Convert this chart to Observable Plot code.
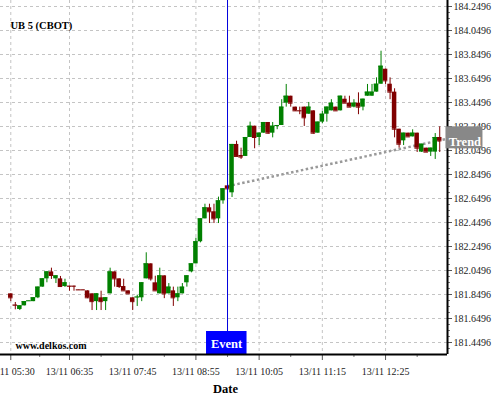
<!DOCTYPE html>
<html><head><meta charset="utf-8">
<script src="https://cdn.jsdelivr.net/npm/d3@7"></script>
<script src="https://cdn.jsdelivr.net/npm/@observablehq/plot@0.6"></script>
<style>html,body{margin:0;padding:0;background:#fff;} #chart svg{display:block;}</style>
</head><body><div id="chart"></div>
<script>
const title = "UB 5 (CBOT)";
const source = "www.delkos.com";
const xLabel = "Date";
const eventLabel = "Event";
const trendLabel = "Trend";

const times = [
"05:30","05:35","05:40","05:45","05:50","05:55",
"06:00","06:05","06:10","06:15","06:20","06:25","06:30","06:35","06:40","06:45","06:50","06:55",
"07:00","07:05","07:10","07:15","07:20","07:25","07:30","07:35","07:40","07:45","07:50","07:55",
"08:00","08:05","08:10","08:15","08:20","08:25","08:30","08:35","08:40","08:45","08:50","08:55",
"09:00","09:05","09:10","09:15","09:20","09:25","09:30","09:35","09:40","09:45","09:50","09:55",
"10:00","10:05","10:10","10:15","10:20","10:25","10:30","10:35","10:40","10:45","10:50","10:55",
"11:00","11:05","11:10","11:15","11:20","11:25","11:30","11:35","11:40","11:45","11:50","11:55",
"12:00","12:05","12:10","12:15","12:20","12:25","12:30","12:35","12:40","12:45","12:50","12:55",
"13:00","13:05","13:10","13:15","13:20","13:25"];

const open = [
181.855,181.763,181.725,181.755,181.795,181.790,181.822,181.911,181.980,182.038,
181.980,181.980,181.916,181.920,181.920,181.890,181.890,181.880,181.855,181.790,
181.822,181.790,181.855,182.038,181.980,181.916,181.880,181.822,181.825,181.822,
181.980,182.105,181.947,181.855,182.005,181.855,181.880,181.822,181.855,181.947,
182.038,182.105,182.289,182.480,182.572,182.539,182.480,182.630,182.755,182.697,
183.100,183.008,183.000,183.158,183.252,183.158,183.194,183.283,183.194,183.255,
183.258,183.444,183.502,183.411,183.382,183.411,183.352,183.380,183.194,183.286,
183.352,183.380,183.411,183.380,183.477,183.444,183.411,183.444,183.411,183.502,
183.502,183.536,183.602,183.727,183.602,183.536,183.227,183.130,183.194,183.163,
183.194,183.036,183.069,183.036,183.036,183.158];

const high = [
181.855,181.783,181.755,181.790,181.797,181.822,181.911,181.980,182.038,182.069,
182.005,182.000,181.977,181.920,181.920,181.890,181.890,181.880,181.855,181.855,
181.877,181.822,182.069,182.038,181.980,181.977,181.880,181.822,181.844,181.947,
182.197,182.105,182.002,182.069,182.005,181.941,181.911,181.911,181.941,182.005,
182.105,182.319,182.480,182.602,182.602,182.602,182.661,182.730,182.755,183.100,
183.127,183.069,183.158,183.286,183.252,183.194,183.283,183.283,183.283,183.258,
183.473,183.600,183.502,183.411,183.411,183.411,183.450,183.380,183.286,183.375,
183.411,183.473,183.411,183.502,183.502,183.502,183.473,183.530,183.477,183.600,
183.600,183.655,183.877,183.727,183.655,183.564,183.227,183.194,183.194,183.222,
183.194,183.102,183.069,183.069,183.191,183.247];

const low = [
181.790,181.722,181.716,181.755,181.795,181.790,181.815,181.911,181.947,181.975,
181.941,181.908,181.908,181.877,181.877,181.888,181.888,181.815,181.716,181.716,
181.716,181.716,181.855,181.911,181.900,181.880,181.855,181.716,181.750,181.790,
181.980,181.961,181.880,181.855,181.815,181.855,181.750,181.790,181.855,181.911,
182.030,182.105,182.280,182.480,182.441,182.441,182.441,182.602,182.730,182.658,
183.000,182.975,183.000,183.158,183.064,183.091,183.194,183.186,183.155,183.223,
183.258,183.411,183.411,183.375,183.348,183.250,183.352,183.186,183.194,183.272,
183.286,183.380,183.380,183.380,183.444,183.411,183.405,183.348,183.380,183.502,
183.502,183.536,183.602,183.600,183.473,183.155,183.069,183.091,183.163,183.163,
183.033,183.033,183.036,183.000,182.975,183.033];

const close = [
181.822,181.760,181.755,181.790,181.797,181.822,181.911,181.980,182.038,182.008,
182.005,181.916,181.947,181.918,181.918,181.888,181.888,181.822,181.790,181.855,
181.790,181.822,182.038,181.980,181.916,181.880,181.855,181.790,181.828,181.947,
182.105,181.980,181.880,182.005,181.855,181.911,181.822,181.855,181.911,182.005,
182.105,182.289,182.480,182.572,182.539,182.480,182.630,182.730,182.730,183.100,
183.000,182.995,183.158,183.252,183.158,183.194,183.283,183.194,183.252,183.258,
183.411,183.502,183.444,183.380,183.380,183.322,183.411,183.194,183.286,183.352,
183.411,183.444,183.380,183.502,183.444,183.411,183.444,183.411,183.477,183.536,
183.536,183.602,183.752,183.630,183.536,183.227,183.102,183.194,183.163,183.194,
183.069,183.102,183.036,183.069,183.158,183.130];

const xTickTimes = ["05:30","06:35","07:45","08:55","10:05","11:15","12:25"];
const xTickLabels = ["13/11 05:30","13/11 06:35","13/11 07:45","13/11 08:55","13/11 10:05","13/11 11:15","13/11 12:25"];
const xMinorTimes = ["06:02","07:10","08:20","09:30","10:40","11:50","13:00"];
const yTicks = [181.4496,181.6496,181.8496,182.0496,182.2496,182.4496,182.6496,182.8496,183.0496,183.2496,183.4496,183.6496,183.8496,184.0496,184.2496];

const eventTime = "09:30";
const trendTimes = ["09:30","13:33"];
const trendValues = [182.752, 183.147];

// ---- build ----
const day = (s) => { const [h, m] = s.split(":").map(Number); return new Date(Date.UTC(2023, 10, 13, h, m)); };
const candles = times.map((t, i) => ({t: day(t), o: open[i], h: high[i], l: low[i], c: close[i]}));
const half = 2.5 * 60000;
const up = "#008000", down = "#800000";
const col = d => d.c >= d.o ? up : down;
const xDomain = [new Date(Date.UTC(2023, 10, 13, 5, 18, 36)), new Date(Date.UTC(2023, 10, 13, 13, 33, 36))];
const yDomain = [181.3496, 184.2996];
const xTickDates = xTickTimes.map(day);
const labelMap = new Map(xTickDates.map((d, i) => [+d, xTickLabels[i]]));
const minorY = d3.range(1, 59).map(k => +(yDomain[0] + 0.05 * k).toFixed(4));
const trend = trendTimes.map((t, i) => ({t: day(t), v: trendValues[i]}));
const trendEnd = [trend[trend.length - 1]];
const ev = [day(eventTime)];
const font = "'Liberation Serif', 'Times New Roman', serif";

const chart = Plot.plot({
  width: 500, height: 400,
  marginLeft: 0, marginRight: 53, marginTop: 0, marginBottom: 46,
  style: {fontFamily: font, fontSize: "10px", color: "#222", background: "white", overflow: "visible"},
  x: {type: "utc", domain: xDomain},
  y: {domain: yDomain},
  marks: [
    Plot.gridY(yTicks, {stroke: "#c4c4c4", strokeOpacity: 1, strokeDasharray: "3,3"}),
    Plot.gridX(xTickDates, {stroke: "#c4c4c4", strokeOpacity: 1, strokeDasharray: "3,3"}),
    Plot.link([{t1: trend[0].t, v1: trend[0].v, t2: trend[1].t, v2: trend[1].v}], {x1: "t1", y1: "v1", x2: "t2", y2: "v2", stroke: "#999999", strokeWidth: 2.5, strokeDasharray: "2.5 2.5"}),
    Plot.ruleX(candles, {x: "t", y1: "l", y2: "h", stroke: col, strokeWidth: 1}),
    Plot.rect(candles, {x1: d => new Date(+d.t - half), x2: d => new Date(+d.t + half), y1: "o", y2: "c", fill: col}),
    Plot.ruleY(candles, {y: "c", x1: d => new Date(+d.t - half), x2: d => new Date(+d.t + half), stroke: col, strokeWidth: 1}),
    Plot.ruleX(ev, {x: d => d, stroke: "#0000dd", strokeWidth: 1}),
    Plot.rect(ev, {x1: d => d, x2: d => d, y1: () => yDomain[0], y2: () => yDomain[0], insetLeft: -21, insetRight: -19.5, insetTop: -23, fill: "#0000ff"}),
    Plot.text(ev, {x: d => d, y: () => yDomain[0], text: () => eventLabel, dy: -10.5, dx: -1, fill: "white", fontWeight: "bold", fontSize: 12.5}),
    Plot.text([title], {frameAnchor: "top-left", text: d => d, dx: 10, dy: 21, textAnchor: "start", fontWeight: "bold", fontSize: 10.5, fill: "black"}),
    Plot.text([source], {frameAnchor: "bottom-left", text: d => d, dx: 15, dy: -6, textAnchor: "start", fontWeight: "bold", fontSize: 10, fill: "black"}),
    Plot.text([xLabel], {frameAnchor: "bottom", text: d => d, dx: 1.5, dy: 38, fontWeight: "bold", fontSize: 12.5, fill: "black"}),
    Plot.axisY(minorY, {anchor: "right", tickSize: 2, tickFormat: () => "", label: null, stroke: "#777"}),
    Plot.axisY(yTicks, {anchor: "right", tickSize: 4, tickPadding: 2, tickFormat: d => d.toFixed(4), label: null, stroke: "#555", fill: "#222"}),
    Plot.axisX(xMinorTimes.map(day), {anchor: "bottom", tickSize: 3, tickFormat: () => "", label: null, stroke: "#777"}),
    Plot.axisX(xTickDates, {anchor: "bottom", tickSize: 6, tickPadding: 7, tickFormat: d => labelMap.get(+d), label: null, stroke: "#555", fill: "#222"}),
    Plot.ruleY([yDomain[0]], {stroke: "black", strokeWidth: 2}),
    Plot.ruleX([xDomain[1]], {stroke: "black", strokeWidth: 2}),
    Plot.rect(trendEnd, {x1: "t", x2: "t", y1: "v", y2: "v", insetLeft: -1, insetRight: -36, insetTop: -12, insetBottom: -10, fill: "#888"}),
    Plot.text(trendEnd, {x: "t", y: "v", text: () => trendLabel, dx: 18, dy: 3, fill: "white", fontWeight: "bold", fontSize: 12.5})
  ]
});
document.getElementById("chart").appendChild(chart);
</script>
</body></html>
